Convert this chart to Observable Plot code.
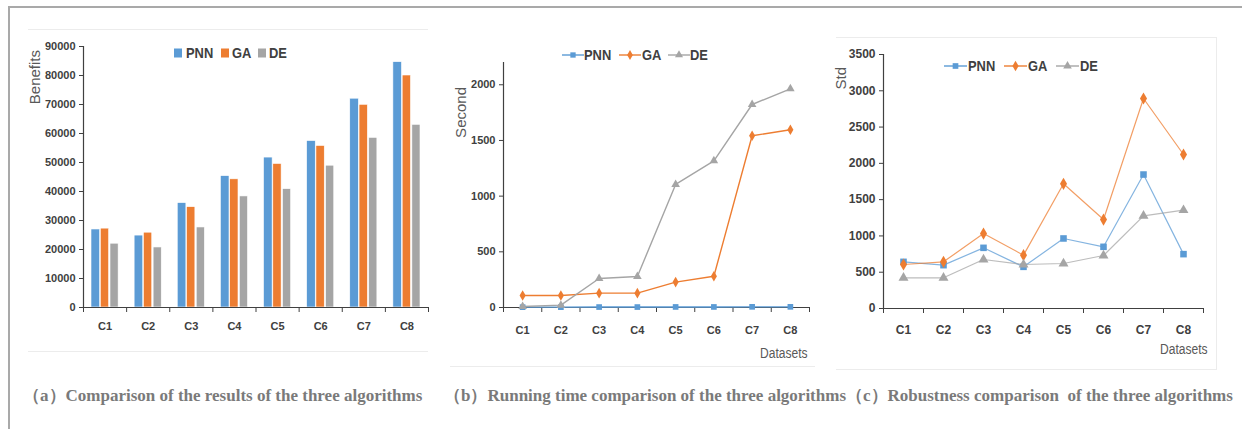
<!DOCTYPE html>
<html><head><meta charset="utf-8">
<script src="https://cdn.jsdelivr.net/npm/d3@7"></script>
<script src="https://cdn.jsdelivr.net/npm/@observablehq/plot@0.6"></script>
<style>
html,body{margin:0;padding:0;background:#fff;}
#root{position:relative;width:1242px;height:429px;overflow:hidden;background:#fff;}
.abs{position:absolute;}
.chart{position:absolute;}
.ylab{position:absolute;writing-mode:vertical-rl;transform:rotate(180deg);font-family:"Liberation Sans",Arial,sans-serif;font-size:15px;color:#595959;line-height:18px;white-space:nowrap;}
.xlab{position:absolute;font-family:"Liberation Sans",Arial,sans-serif;font-size:14px;color:#595959;white-space:nowrap;line-height:16px;transform:scaleX(0.86);transform-origin:0 0;}
.leg{position:absolute;font-family:"Liberation Sans",Arial,sans-serif;font-size:15px;font-weight:bold;color:#404040;white-space:nowrap;line-height:18px;transform:scaleX(0.86);transform-origin:0 0;}
.cap{position:absolute;font-family:"Liberation Serif","Times New Roman",serif;font-weight:bold;font-size:17px;color:#7a7a7a;white-space:pre;line-height:18px;}
.faint{position:absolute;border-color:#ececec;border-style:solid;border-width:0;}
</style></head>
<body><div id="root"></div>
<script>
// ---------- data ----------
const categories = ["C1","C2","C3","C4","C5","C6","C7","C8"];
const seriesNames = ["PNN","GA","DE"];
const seriesColors = ["#5B9BD5","#ED7D31","#A5A5A5"];
const seriesSymbols = ["square","diamond","triangle"];

const benefitsPNN = [26900, 24800, 36000, 45300, 51700, 57400, 72000, 84600];
const benefitsGA  = [27200, 25800, 34600, 44200, 49500, 55700, 69900, 80000];
const benefitsDE  = [22000, 20700, 27600, 38300, 40800, 48900, 58500, 63000];

const secondsPNN = [3, 3, 4, 4, 5, 5, 6, 6];
const secondsGA  = [108, 108, 129, 129, 228, 281, 1542, 1596];
const secondsDE  = [9, 21, 260, 278, 1105, 1317, 1823, 1964];

const stdPNN = [643, 597, 836, 574, 965, 850, 1846, 749];
const stdGA  = [606, 643, 1033, 735, 1718, 1226, 2894, 2122];
const stdDE  = [423, 423, 675, 606, 620, 730, 1277, 1355];

const benefitTicks = [0,10000,20000,30000,40000,50000,60000,70000,80000,90000];
const secondTicks  = [0,500,1000,1500,2000];
const stdTicks     = [0,500,1000,1500,2000,2500,3000,3500];

const captions = [
  "（a）Comparison of the results of the three algorithms",
  "（b）Running time comparison of the three algorithms",
  "（c）Robustness comparison  of the three algorithms"
];

// ---------- helpers ----------
const root = document.getElementById("root");
const FONT = '"Liberation Sans",Arial,sans-serif';
function place(el, left, top) { el.style.left = left + "px"; el.style.top = top + "px"; root.appendChild(el); return el; }
function div(cls, text) { const d = document.createElement("div"); d.className = cls; if (text != null) d.textContent = text; return d; }
function baseStyle(fs) {
  return {fontFamily: FONT, fontSize: fs + "px", fontWeight: "bold", color: "#404040", background: "transparent", overflow: "visible"};
}

// ---------- frame decorations ----------
const outer = div("abs"); outer.style.cssText += "width:1240px;height:430px;border-top:2px solid #a9a9a9;border-left:2px solid #a9a9a9;";
place(outer, 8, 6);
const fa1 = div("faint"); fa1.style.cssText += "width:400px;height:321px;border-top-width:1px;border-bottom-width:1px;"; place(fa1, 28, 29);
const fb1 = div("faint"); fb1.style.cssText += "width:365px;height:0;border-bottom-width:1px;"; place(fb1, 450, 366);
const fc1 = div("faint"); fc1.style.cssText += "width:380px;height:331px;border-top-width:1px;border-bottom-width:1px;border-right-width:1px;"; place(fc1, 836, 37);

// ---------- (a) grouped bars ----------
const barSeries = [benefitsPNN, benefitsGA, benefitsDE];
const barInsets = [[8, 26.5], [17.3, 17.5], [27, 8]];
const barMarks = seriesNames.map((s, k) => Plot.rectY(
  barSeries[k].map((v, i) => ({series: s, idx: i, value: v})),
  {x: "idx", interval: 1, y: "value", fill: seriesColors[k], stroke: "white", strokeWidth: 0.6,
   insetLeft: barInsets[k][0], insetRight: barInsets[k][1]}
));
const chartA = Plot.plot({
  width: 440, height: 345,
  marginLeft: 83, marginRight: 12, marginTop: 46, marginBottom: 38,
  style: baseStyle(11),
  x: {domain: [0, 8]},
  y: {domain: [0, 90000]},
  marks: [
    ...barMarks,
    Plot.ruleY([0], {stroke: "#404040", strokeWidth: 1.2}),
    Plot.ruleX([0], {stroke: "#404040", strokeWidth: 1.2}),
    Plot.axisY({ticks: benefitTicks, tickSize: 4, tickPadding: 4, tickFormat: d => String(d), label: null}),
    Plot.axisX({ticks: d3.range(0, 9), tickSize: 5, tickFormat: () => "", label: null}),
    Plot.axisX({ticks: d3.range(0.5, 8, 1), tickSize: 0, tickPadding: 15, tickFormat: d => categories[Math.floor(d)], label: null})
  ]
});
chartA.classList.add("chart"); place(chartA, 0, 0);

// ---------- line charts ----------
function linePlot(values, yDomain, yTicks, left, w, margins, opts) {
  const rows = seriesNames.flatMap((s, k) => values[k].map((v, i) => ({series: s, pos: i + 1, value: v})));
  const p = Plot.plot({
    width: w, height: 345,
    marginLeft: margins[0], marginRight: margins[1], marginTop: margins[2], marginBottom: margins[3],
    style: baseStyle(opts.fs),
    x: {domain: [0.5, 8.5]},
    y: {domain: yDomain},
    color: {domain: seriesNames, range: seriesColors},
    symbol: {domain: seriesNames, range: seriesSymbols},
    marks: [
      Plot.ruleY([0], {stroke: "#404040", strokeWidth: 1.2}),
      Plot.ruleX([0.5], {stroke: "#404040", strokeWidth: 1.2}),
      Plot.axisY({ticks: yTicks, tickSize: 4, tickPadding: 4, tickFormat: d => String(d), label: null}),
      Plot.axisX({ticks: d3.range(0.5, 8.6, 1), tickSize: 5, tickFormat: () => "", label: null}),
      Plot.axisX({ticks: d3.range(1, 9), tickSize: 0, tickPadding: opts.pad, tickFormat: d => categories[d - 1], label: null}),
      Plot.line(rows, {x: "pos", y: "value", z: "series", stroke: "series", strokeWidth: opts.lw, strokeOpacity: opts.so}),
      Plot.dot(rows, {x: "pos", y: "value", fill: "series", symbol: "series", r: opts.r, stroke: "none"})
    ]
  });
  p.classList.add("chart");
  return place(p, left, 0);
}
linePlot([secondsPNN, secondsGA, secondsDE], [0, 2200], secondTicks, 420, 410, [83, 21, 62, 38], {fs: 11, pad: 19, lw: 1.4, so: 1, r: 3.2});
linePlot([stdPNN, stdGA, stdDE], [0, 3500], stdTicks, 830, 412, [53, 39, 54, 37], {fs: 12, pad: 17, lw: 1.2, so: 0.75, r: 3.7});

// ---------- axis titles ----------
place(div("ylab", "Benefits"), 26, 50);
place(div("ylab", "Second"), 452, 87);
place(div("ylab", "Std"), 832, 67);
place(div("xlab", "Datasets"), 760, 345);
place(div("xlab", "Datasets"), 1160, 341);

// ---------- legends ----------
function swatchSquare(k) {
  const s = d3.create("svg").attr("width", 9).attr("height", 10);
  s.append("rect").attr("width", 8).attr("height", 9).attr("y", 0.5).attr("fill", seriesColors[k]);
  return s.node();
}
function swatchLine(k, w, r) {
  const s = d3.create("svg").attr("width", w).attr("height", 12);
  s.append("line").attr("x1", 0).attr("x2", w).attr("y1", 6).attr("y2", 6).attr("stroke", seriesColors[k]).attr("stroke-width", 1.4);
  const sym = {square: d3.symbolSquare, diamond: d3.symbolDiamond, triangle: d3.symbolTriangle}[seriesSymbols[k]];
  s.append("path").attr("d", d3.symbol(sym, Math.PI * r * r)()).attr("transform", `translate(${w / 2},6)`).attr("fill", seriesColors[k]);
  return s.node();
}
// (a)
const legA = [[174, 186], [221, 232], [258, 269]];
seriesNames.forEach((s, k) => {
  const sw = swatchSquare(k); sw.style.position = "absolute"; place(sw, legA[k][0], 48);
  place(div("leg", s), legA[k][1], 44);
});
// (b)
const legB = [[562, 584], [619, 642], [668, 690]];
seriesNames.forEach((s, k) => {
  const sw = swatchLine(k, 22, 3); sw.style.position = "absolute"; place(sw, legB[k][0], 49);
  place(div("leg", s), legB[k][1], 46);
});
// (c)
const legC = [[944, 968], [1004, 1028], [1056, 1080]];
seriesNames.forEach((s, k) => {
  const sw = swatchLine(k, 23, 3.2); sw.style.position = "absolute"; place(sw, legC[k][0], 60);
  place(div("leg", s), legC[k][1], 57);
});

// ---------- captions ----------
place(div("cap", captions[0]), 23, 387);
place(div("cap", captions[1]), 444, 387);
place(div("cap", captions[2]), 846, 387);
</script>
</body></html>
